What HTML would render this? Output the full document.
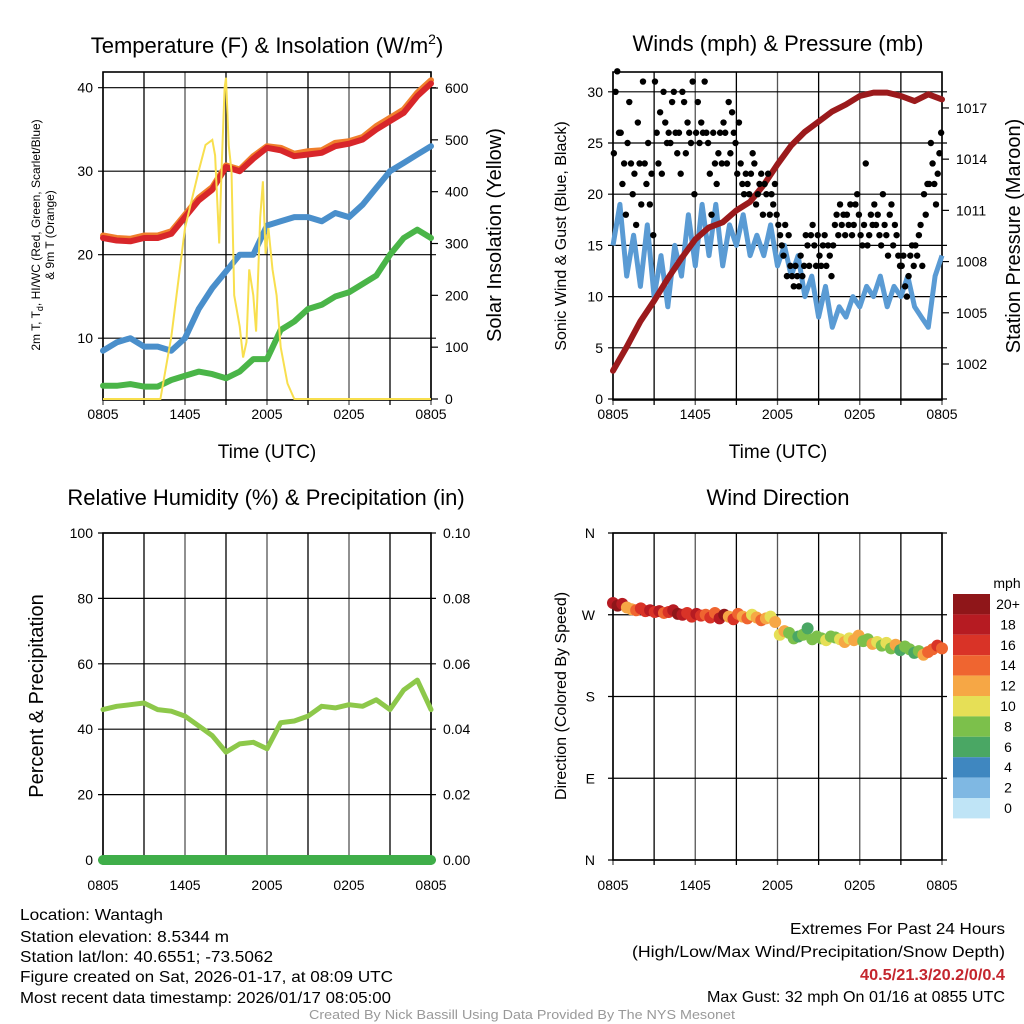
<!DOCTYPE html>
<html><head><meta charset="utf-8"><style>
body{margin:0;background:#fff}
svg{display:block;font-family:"Liberation Sans",sans-serif}
</style></head><body>
<svg id="root" width="1024" height="1024" viewBox="0 0 1024 1024" xmlns="http://www.w3.org/2000/svg">
<rect width="1024" height="1024" fill="#fff"/>
<g font-size="22" text-anchor="middle" fill="#000">
<text x="267" y="53">Temperature (F) &amp; Insolation (W/m<tspan dy="-9" font-size="14">2</tspan><tspan dy="9">)</tspan></text>
<text x="778" y="51">Winds (mph) &amp; Pressure (mb)</text>
<text x="266" y="505">Relative Humidity (%) &amp; Precipitation (in)</text>
<text x="778" y="505">Wind Direction</text>
</g>
<g id="p1"></g>
<g id="p2"></g>
<g id="p3"></g>
<g id="p4"></g>
<g font-size="16" fill="#000">
<text x="20" y="920" textLength="143" lengthAdjust="spacingAndGlyphs">Location: Wantagh</text>
<text x="20" y="942" textLength="209" lengthAdjust="spacingAndGlyphs">Station elevation: 8.5344 m</text>
<text x="20" y="962" textLength="253" lengthAdjust="spacingAndGlyphs">Station lat/lon: 40.6551; -73.5062</text>
<text x="20" y="982" textLength="373" lengthAdjust="spacingAndGlyphs">Figure created on Sat, 2026-01-17, at 08:09 UTC</text>
<text x="20" y="1003" textLength="371" lengthAdjust="spacingAndGlyphs">Most recent data timestamp: 2026/01/17 08:05:00</text>
<text x="790" y="934" textLength="215" lengthAdjust="spacingAndGlyphs">Extremes For Past 24 Hours</text>
<text x="632" y="957" textLength="373" lengthAdjust="spacingAndGlyphs">(High/Low/Max Wind/Precipitation/Snow Depth)</text>
<text x="860" y="980" textLength="145" lengthAdjust="spacingAndGlyphs" font-weight="bold" fill="#c4262e">40.5/21.3/20.2/0/0.4</text>
<text x="707" y="1002" textLength="298" lengthAdjust="spacingAndGlyphs">Max Gust: 32 mph On 01/16 at 0855 UTC</text>
<text x="309" y="1019" font-size="13" fill="#999" textLength="426" lengthAdjust="spacingAndGlyphs">Created By Nick Bassill Using Data Provided By The NYS Mesonet</text>
</g>
</svg>
<script>
const NS='http://www.w3.org/2000/svg';
// ---------- data ----------
const xTickLabels=['0805','1405','2005','0205','0805'];
const tempRed=[22,21.7,21.6,22,22,22.5,24.5,26.5,27.8,30.5,30,31.5,32.8,32.5,31.8,32,32.2,33,33.3,33.8,35,36,37,39,40.5];
const tempOrange=[22.3,22,21.9,22.3,22.3,22.8,24.8,26.8,28.1,30.7,30.2,31.8,33,32.8,32.1,32.4,32.5,33.4,33.6,34.1,35.4,36.4,37.4,39.4,40.9];
const dewBlue=[8.5,9.5,10,9,9,8.5,10,13.5,16,18,20,20,23.5,24,24.5,24.5,24,25,24.5,26,28,30,31,32,33];
const wcGreen=[4.3,4.3,4.5,4.2,4.2,5,5.5,6,5.7,5.2,6,7.5,7.5,11,12,13.5,14,15,15.5,16.5,17.5,20,22,23,22];
const solarHours=[0,4.2,5,6,7,7.5,8,8.2,8.4,8.5,8.7,8.9,9.0,9.2,9.4,9.6,10,10.25,10.5,10.7,11.0,11.2,11.5,11.7,11.9,12.1,12.4,12.7,13.0,13.5,14,24];
const solarValues=[0,0,120,330,440,490,500,470,360,300,460,600,620,490,440,200,140,80,110,250,200,130,350,420,280,330,250,200,100,30,0,0];
const tempTicks=[10,20,30,40];
const solarTicks=[0,100,200,300,400,500,600];
const pressure=[1001.6,1003,1004.5,1005.7,1007,1008.2,1009.3,1010,1010.3,1011,1011.5,1012.5,1013.7,1014.8,1015.6,1016.2,1016.8,1017.2,1017.7,1017.9,1017.9,1017.7,1017.4,1017.8,1017.5];
const windBlue=[15,19,12,16,11,17,10,14,9,15,12,18,13,19,14,19,13,17,15,18,14,16,14,17,13,15,12,14,10,12,8,11,7,9,8,10,9,11,10,12,9,11,10,12,9,8,7,12,14];
const gusts=[24,30,32,26,26,21,23,18, 25,29,23,20,22,17,27,23, 19,31,23,21,25,19,22,16, 31,26,23,28,22,30,27,25,
 26,25,29,30,26,24,26,22, 30,29,24,27,26,25,31,20, 26,29,25,27,26,31,26,25, 22,18,26,23,21,24,26,23,
 27,26,23,29,24,28,26,25, 22,27,23,21,20,22,21,20, 22,24,23,19,20,21,22,18, 21,20,22,18,20,19,21,18,
 17,16,15,14,17,12,16,13, 12,11,13,12,11,14,12,13, 16,15,13,16,17,15,13,16, 14,13,15,16,13,15,14,12,
 15,17,18,16,19,17,18,16, 18,17,19,16,17,19,20,18, 16,15,17,23,15,16,18,17, 19,17,18,16,15,20,17,16,
 14,18,19,15,17,16,14,13, 13,14,11,10,12,14,15,13, 15,14,16,17,13,20,18,21, 21,25,23,21,19,22,24,26];
const windTicks=[0,5,10,15,20,25,30];
const pressTicks=[1002,1005,1008,1011,1014,1017];
const rh=[46,47,47.5,48,46,45.5,44,41,38,33,35.5,36,34,42,42.5,44,47,46.5,47.5,47,49,46,52,55,46];
const precip=[0,0,0,0,0,0,0,0,0,0,0,0,0,0,0,0,0,0,0,0,0,0,0,0,0];
const rhTicks=[0,20,40,60,80,100];
const precipTicks=['0.00','0.02','0.04','0.06','0.08','0.10'];
const dirDeg=[283,280,282,278,276,275,277,274,275,273,274,272,273,275,271,270,272,268,271,269,270,267,272,266,270,268,265,271,268,266,270,267,264,266,268,262,
 248,252,250,244,246,248,255,243,246,244,242,246,245,243,240,244,242,247,241,243,238,240,236,239,233,237,231,235,232,228,230,226,229,232,236,233];
const dirSpeed=[19,20,18,13,12,14,16,17,18,16,19,15,17,18,20,18,16,17,19,16,15,17,14,18,20,13,16,14,12,15,11,13,14,12,10,13,
 10,12,9,8,7,8,7,9,8,9,10,8,9,11,12,10,13,12,9,8,12,11,9,10,8,12,7,9,8,6,8,13,15,14,16,14];
const dirTicks=['N','E','S','W','N'];
const cbLabels=['20+','18','16','14','12','10','8','6','4','2','0'];
const cbColors=['#8f1619','#b61b22','#d93327','#ef6530','#f6a745','#e6df56','#7cc04b','#4aa764','#3f87c0','#7fb8e3','#bfe4f6'];

function mk(parent,tag,attrs,text){const e=document.createElementNS(NS,tag);for(const k in attrs)e.setAttribute(k,attrs[k]);if(text!==undefined)e.textContent=text;parent.appendChild(e);return e;}
function pts(arr,fx,fy,times){return arr.map((v,i)=>fx(times?times[i]:i*24/(arr.length-1)).toFixed(1)+','+fy(v).toFixed(1)).join(' ');}

function frame(g,x0,x1,y0,y1,hTickYs,xLabelsY,tag){
  for(let h=0;h<=24;h+=3){const x=x0+(x1-x0)*h/24;
    const l=mk(g,'line',{x1:x,x2:x,y1:y0,y2:y1+5,stroke:(h%6==0?'#555':'#000'),'stroke-width':1.3});
    
    }
  hTickYs.forEach(y=>{const l=mk(g,'line',{x1:x0-5,x2:x1+5,y1:y,y2:y,stroke:'#000','stroke-width':1.2});
    
    });
  const r=mk(g,'rect',{x:x0,y:y0,width:x1-x0,height:y1-y0,fill:'none',stroke:'#000','stroke-width':1.6});
  
  
  xTickLabels.forEach((s,i)=>{const t=mk(g,'text',{x:x0+(x1-x0)*i/4,y:xLabelsY,'font-size':14,'text-anchor':'middle'},s);
    
    });
}
function tickLabel(g,x,y,s,anchor){const t=mk(g,'text',{x:x,y:y+5,'font-size':14,'text-anchor':anchor},s);
  
  }
function rotTitle(g,x,y,s,size,name){const t=mk(g,'text',{x:0,y:0,'font-size':size,'text-anchor':'middle',transform:`translate(${x},${y}) rotate(-90)`},s);
  
  return t;}

// ---------- panel 1 ----------
(function(){const g=document.getElementById('p1');
 const X0=103,X1=431,Y0=72,Y1=400;
 const fx=h=>X0+(X1-X0)*h/24, fy=v=>400-(v-2.6)*8.35, fs=s=>399-s*0.5183;
 frame(g,X0,X1,Y0,Y1,tempTicks.map(fy),419,'temp');
 tempTicks.forEach(v=>tickLabel(g,X0-10,fy(v),String(v),'end'));
 solarTicks.forEach(v=>{tickLabel(g,X1+14,fs(v),String(v),'start');
   const l=mk(g,'line',{x1:X1,x2:X1+7,y1:fs(v),y2:fs(v),stroke:'#000','stroke-width':1.2});
   
   });
 const series=[[tempOrange,'#f07f2c','orange-9m-temp'],[tempRed,'#d8262a','red-2m-temp'],[dewBlue,'#4a8fcb','blue-dewpoint'],[wcGreen,'#4ab548','green-windchill']];
 series.forEach(([d,c,n])=>{const p=mk(g,'polyline',{points:pts(d,fx,fy),fill:'none',stroke:c,'stroke-width':6,'stroke-linejoin':'round','stroke-linecap':'round'});
   
   });
 const s=mk(g,'polyline',{points:pts(solarValues,fx,fs,solarHours),fill:'none',stroke:'#f8df4e','stroke-width':2});
 
 
 const t1=mk(g,'text',{x:267,y:458,'font-size':19,'text-anchor':'middle'},'Time (UTC)');
 
 
 const lt=rotTitle(g,40,235,'','12','left-axis-title');
 lt.innerHTML='<tspan x="0" dy="0">2m T, T<tspan font-size="9" dy="3">d</tspan><tspan dy="-3">, HI/WC (Red, Green, Scarlet/Blue)</tspan></tspan><tspan x="0" dy="14">&amp; 9m T (Orange)</tspan>';
 rotTitle(g,501,235,'Solar Insolation (Yellow)',20,'right-axis-title');
})();

// ---------- panel 2 ----------
(function(){const g=document.getElementById('p2');
 const X0=613,X1=942,Y0=72,Y1=400;
 const fx=h=>X0+(X1-X0)*h/24, fy=v=>399-v*10.24, fp=p=>364-(p-1002)*17.07;
 frame(g,X0,X1,Y0,Y1,windTicks.map(fy),419,'winds');
 windTicks.forEach(v=>tickLabel(g,X0-10,fy(v),String(v),'end'));
 pressTicks.forEach(v=>{tickLabel(g,X1+14,fp(v),String(v),'start');
   const l=mk(g,'line',{x1:X1,x2:X1+7,y1:fp(v),y2:fp(v),stroke:'#000','stroke-width':1.2});
   
   });
 const b=mk(g,'polyline',{points:pts(windBlue,fx,fy),fill:'none',stroke:'#5a9bd4','stroke-width':5,'stroke-linejoin':'round'});
 
 
 const p=mk(g,'polyline',{points:pts(pressure,fx,fp),fill:'none',stroke:'#9b1a1c','stroke-width':6,'stroke-linejoin':'round','stroke-linecap':'round'});
 
 
 gusts.forEach((v,i)=>{const c=mk(g,'circle',{cx:fx((i+0.5)*24/gusts.length),cy:fy(v),r:3.2,fill:'#000'});
   
   });
 const t=mk(g,'text',{x:778,y:458,'font-size':19,'text-anchor':'middle'},'Time (UTC)');
 
 
 rotTitle(g,566,236,'Sonic Wind & Gust (Blue, Black)',16,'left-axis-title');
 rotTitle(g,1020,236,'Station Pressure (Maroon)',20,'right-axis-title');
})();

// ---------- panel 3 ----------
(function(){const g=document.getElementById('p3');
 const X0=103,X1=431,Y0=533,Y1=860;
 const fx=h=>X0+(X1-X0)*h/24, fy=v=>860-v*3.27, fpr=v=>860-v*3270;
 frame(g,X0,X1,Y0,Y1,rhTicks.map(fy),890,'rh');
 rhTicks.forEach(v=>tickLabel(g,X0-10,fy(v),String(v),'end'));
 precipTicks.forEach((s,i)=>{tickLabel(g,X1+12,fy(i*20),s,'start');});
 const r=mk(g,'polyline',{points:pts(rh,fx,fy),fill:'none',stroke:'#8dc84a','stroke-width':5,'stroke-linejoin':'round','stroke-linecap':'round'});
 
 
 const pr=mk(g,'polyline',{points:pts(precip,fx,fpr),fill:'none',stroke:'#3fae49','stroke-width':10,'stroke-linecap':'round'});
 
 
 rotTitle(g,43,696,'Percent & Precipitation',20,'left-axis-title');
})();

// ---------- panel 4 ----------
(function(){const g=document.getElementById('p4');
 const X0=613,X1=942,Y0=533,Y1=860;
 const fx=h=>X0+(X1-X0)*h/24, fy=d=>860-d*0.9083;
 frame(g,X0,X1,Y0,Y1,[0,90,180,270,360].map(fy),890,'direction');
 dirTicks.forEach((s,i)=>tickLabel(g,X0-18,fy(i*90),s,'end'));
 const col=s=>cbColors[Math.max(0,10-Math.min(10,Math.floor(s/2)))];
 dirDeg.forEach((d,i)=>{const c=mk(g,'circle',{cx:fx(i*24/(dirDeg.length-1)),cy:fy(d),r:6,fill:col(dirSpeed[i])});
   
   });
 rotTitle(g,566,696,'Direction (Colored By Speed)',16,'left-axis-title');
 const u=mk(g,'text',{x:1007,y:588,'font-size':14,'text-anchor':'middle'},'mph');
 
 
 cbColors.forEach((c,i)=>{const r=mk(g,'rect',{x:953,y:594+i*20.4,width:37,height:20.4,fill:c});
   
   
   const t=mk(g,'text',{x:1008,y:609+i*20.4,'font-size':14,'text-anchor':'middle'},cbLabels[i]);
   
   });
})();
</script>
</body></html>
